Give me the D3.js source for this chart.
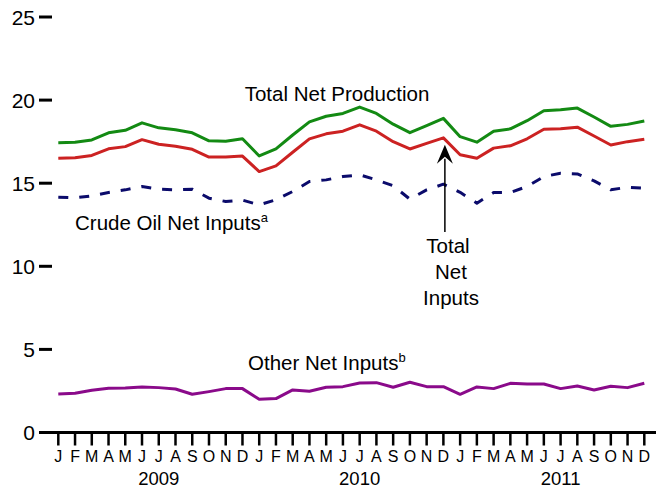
<!DOCTYPE html>
<html>
<head>
<meta charset="utf-8">
<script src="https://cdn.jsdelivr.net/npm/d3@7"></script>
<style>
  html, body { margin: 0; padding: 0; background: #fff; }
  svg { display: block; font-family: "Liberation Sans", Arial, sans-serif; }
</style>
</head>
<body>
<svg id="chart" width="663" height="491"></svg>
<script>
// ---- data (million barrels per day) ----
const months = ["J","F","M","A","M","J","J","A","S","O","N","D",
                "J","F","M","A","M","J","J","A","S","O","N","D",
                "J","F","M","A","M","J","J","A","S","O","N","D"];
const years = ["2009","2010","2011"];
const yTicks = [0, 5, 10, 15, 20, 25];

const totalNetProduction = [17.43,17.46,17.6,18.03,18.18,18.63,18.33,18.21,18.03,17.55,17.52,17.67,
                            16.64,17.07,17.9,18.69,19.03,19.2,19.58,19.2,18.55,18.04,18.46,18.9,
                            17.8,17.47,18.13,18.27,18.76,19.36,19.42,19.52,18.98,18.42,18.54,18.74];
const totalNetInputs = [16.5,16.53,16.67,17.07,17.2,17.62,17.34,17.22,17.04,16.57,16.57,16.63,
                        15.7,16.04,16.86,17.67,17.97,18.13,18.51,18.13,17.5,17.06,17.4,17.73,
                        16.71,16.5,17.11,17.25,17.67,18.25,18.27,18.37,17.84,17.3,17.5,17.65];
const crudeOilNetInputs = [14.16,14.12,14.24,14.44,14.6,14.8,14.64,14.6,14.64,14.1,13.9,13.98,
                           13.7,14.0,14.5,15.1,15.2,15.4,15.5,15.2,14.85,14.04,14.6,14.94,
                           14.45,13.8,14.44,14.44,14.8,15.4,15.6,15.56,15.14,14.6,14.76,14.7];
const otherNetInputs = [2.32,2.36,2.54,2.66,2.68,2.74,2.7,2.62,2.3,2.46,2.64,2.64,
                        2.0,2.04,2.56,2.48,2.72,2.76,2.98,3.0,2.72,3.02,2.76,2.76,
                        2.3,2.74,2.64,2.96,2.92,2.92,2.64,2.8,2.56,2.78,2.7,2.96];

// ---- scales ----
const svg = d3.select("#chart");
const idx = d3.range(months.length);
const x = d3.scalePoint().domain(idx).range([58.3, 644.3]);
const y = d3.scaleLinear().domain([0, 25]).range([432.5, 17]);

// ---- y axis: labels with short dashes ----
const yAxis = svg.append("g");
yAxis.selectAll("line").data(yTicks).join("line")
  .attr("x1", 39).attr("x2", 52)
  .attr("y1", d => y(d)).attr("y2", d => y(d))
  .attr("stroke", "#000").attr("stroke-width", 3);
yAxis.selectAll("text").data(yTicks).join("text")
  .attr("x", 35).attr("y", d => y(d)).attr("dy", "0.36em")
  .attr("text-anchor", "end").attr("font-size", 21).attr("fill", "#000")
  .text(d => d);

// ---- x axis ----
const xAxis = svg.append("g");
xAxis.append("line")
  .attr("x1", 39).attr("x2", 656)
  .attr("y1", y(0)).attr("y2", y(0))
  .attr("stroke", "#000").attr("stroke-width", 3);
xAxis.selectAll("line.tick").data(idx).join("line").attr("class", "tick")
  .attr("x1", d => x(d)).attr("x2", d => x(d))
  .attr("y1", y(0)).attr("y2", y(0) + 13)
  .attr("stroke", "#000").attr("stroke-width", 2.5);
xAxis.selectAll("text.m").data(idx).join("text").attr("class", "m")
  .attr("x", d => x(d)).attr("y", 461.5)
  .attr("text-anchor", "middle").attr("font-size", 16).attr("fill", "#000")
  .text(d => months[d]);
xAxis.selectAll("text.yr").data(years).join("text").attr("class", "yr")
  .attr("x", (d, i) => x(i * 12 + 6)).attr("y", 485)
  .attr("text-anchor", "middle").attr("font-size", 18.5).attr("fill", "#000")
  .text(d => d);

// ---- lines ----
const line = d3.line().x((d, i) => x(i)).y(d => y(d));
const series = [
  { v: totalNetProduction, c: "#138a13", dash: null },
  { v: totalNetInputs, c: "#cc2222", dash: null },
  { v: crudeOilNetInputs, c: "#0b0b6b", dash: "10,11" },
  { v: otherNetInputs, c: "#8a0a8a", dash: null }
];
svg.append("g").selectAll("path").data(series).join("path")
  .attr("d", d => line(d.v))
  .attr("fill", "none")
  .attr("stroke", d => d.c)
  .attr("stroke-width", 3)
  .attr("stroke-linejoin", "round")
  .attr("stroke-dasharray", d => d.dash);

// ---- annotations ----
const ann = svg.append("g").attr("font-size", 20.5).attr("fill", "#000");
ann.append("text").attr("x", 337).attr("y", 101).attr("text-anchor", "middle")
  .text("Total Net Production");
const crude = ann.append("text").attr("x", 75).attr("y", 230);
crude.append("tspan").text("Crude Oil Net Inputs");
crude.append("tspan").attr("font-size", 13).attr("dy", -8).text("a");
const other = ann.append("text").attr("x", 248).attr("y", 370);
other.append("tspan").text("Other Net Inputs");
other.append("tspan").attr("font-size", 13).attr("dy", -8).text("b");
ann.selectAll("text.tni").data(["Total", "Net", "Inputs"]).join("text").attr("class", "tni")
  .attr("x", (d, i) => i === 0 ? 448 : 451).attr("y", (d, i) => 253 + i * 26)
  .attr("text-anchor", "middle")
  .text(d => d);

// arrow pointing at Total Net Inputs (December 2010)
const ax = x(23) + 1.5;
const tip = y(totalNetInputs[23]) + 7;
svg.append("line").attr("x1", ax).attr("x2", ax)
  .attr("y1", 232).attr("y2", tip + 14)
  .attr("stroke", "#000").attr("stroke-width", 1.5);
svg.append("path")
  .attr("d", `M${ax},${tip} L${ax - 8},${tip + 19} L${ax},${tip + 12} L${ax + 8},${tip + 19} Z`)
  .attr("fill", "#000");
</script>
</body>
</html>
